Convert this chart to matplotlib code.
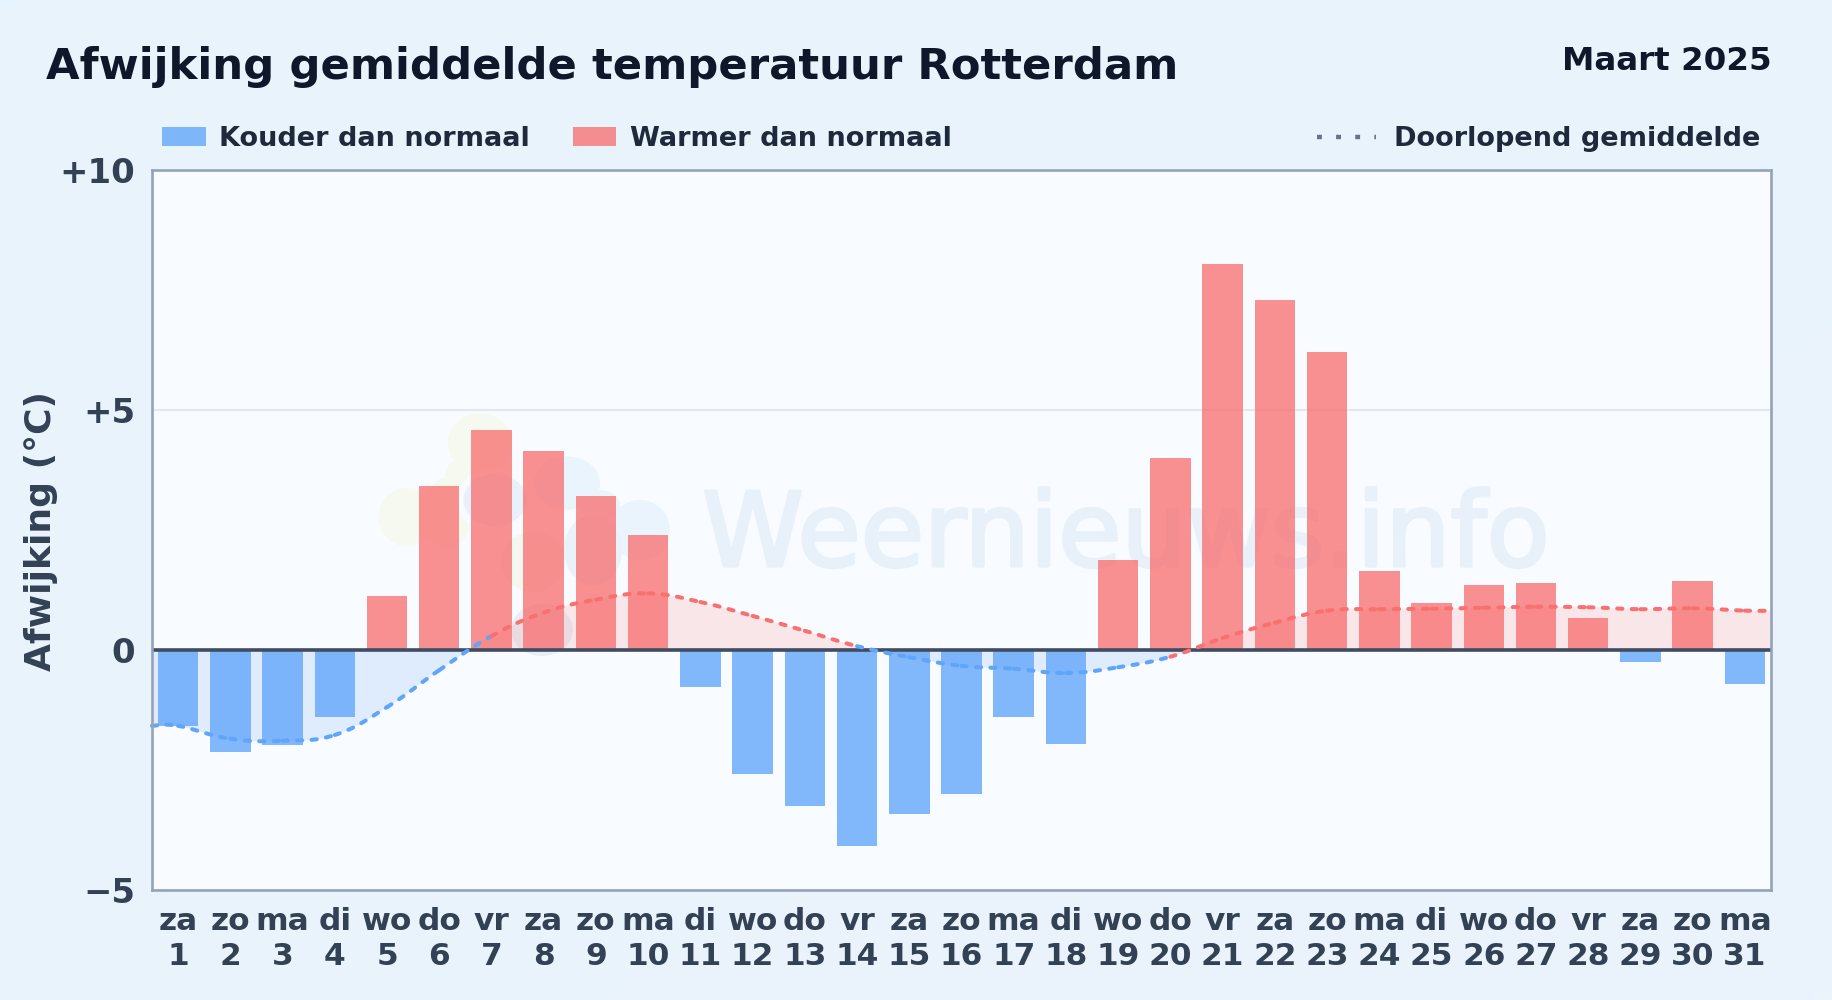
import numpy as np
import matplotlib
matplotlib.use("Agg")
import matplotlib.pyplot as plt
import matplotlib.patheffects as pe
from matplotlib.lines import Line2D
from matplotlib.patches import Ellipse, Rectangle

W, H = 1832, 1000

days = list(range(1, 32))
weekdays = ["za", "zo", "ma", "di", "wo", "do", "vr", "za", "zo", "ma", "di", "wo", "do", "vr", "za", "zo",
            "ma", "di", "wo", "do", "vr", "za", "zo", "ma", "di", "wo", "do", "vr", "za", "zo", "ma"]
deviation = [-1.58, -2.12, -1.97, -1.39, 1.12, 3.42, 4.58, 4.15, 3.21, 2.40, -0.78, -2.58, -3.26, -4.08, -3.42, -2.99,
             -1.39, -1.95, 1.88, 4.00, 8.04, 7.29, 6.21, 1.65, 0.98, 1.35, 1.40, 0.67, -0.26, 1.44, -0.70]
running_x = [0.5] + days + [31.5]
running_mean = [-1.58, -1.58, -1.85, -1.89, -1.77, -1.19, -0.42, 0.29, 0.78, 1.05, 1.18, 1.00, 0.71, 0.40, 0.08, -0.15, -0.33,
                -0.39, -0.48, -0.36, -0.14, 0.25, 0.57, 0.82, 0.85, 0.86, 0.88, 0.90, 0.89, 0.85, 0.87, 0.82, 0.82]
ytick_values = [-5, 0, 5, 10]
ytick_labels = ["\u22125", "0", "+5", "+10"]

BLUE = "#60a5fa"
RED = "#f87171"
DARK = "#0f172a"
SLATE = "#334155"
LEGEND_TEXT = "#1e293b"
EDGE = "#94a3b8"

plt.rcParams["font.family"] = "DejaVu Sans"
plt.rcParams["font.weight"] = "bold"


def px(x, y):
    return x / W, 1 - y / H


def smooth_curve(xs, ys, t=0.4, n=16):
    # bezier pieces like a canvas spline, one piece per pair of points
    xs, ys = np.array(xs, float), np.array(ys, float)
    pieces = []
    for i in range(len(xs) - 1):
        p0 = np.array([xs[i], ys[i]])
        p3 = np.array([xs[i + 1], ys[i + 1]])
        prev = np.array([xs[max(i - 1, 0)], ys[max(i - 1, 0)]])
        nxt = np.array([xs[min(i + 2, len(xs) - 1)], ys[min(i + 2, len(xs) - 1)]])
        p1 = p0 + (p3 - prev) * t / 2
        p2 = p3 - (nxt - p0) * t / 2
        s = np.linspace(0, 1, n)[:, None]
        pts = (1 - s) ** 3 * p0 + 3 * (1 - s) ** 2 * s * p1 + 3 * (1 - s) * s ** 2 * p2 + s ** 3 * p3
        pieces.append(pts)
    return pieces


fig = plt.figure(figsize=(W / 100, H / 100), dpi=100)

# soft page background
bg = fig.add_axes([0, 0, 1, 1], zorder=0)
gx, gy = np.meshgrid(np.linspace(0, 1, 200), np.linspace(0, 1, 110))
bg.imshow(gx * 0.5 + gy * 0.5, cmap=matplotlib.colors.LinearSegmentedColormap.from_list("p", ["#e8f4fd", "#ebf3fb"]),
          aspect="auto", extent=[0, 1, 0, 1])
bg.axis("off")

left, right, top, bottom = 152, 1771, 170, 890
ax = fig.add_axes([left / W, 1 - bottom / H, (right - left) / W, (bottom - top) / H], zorder=1)
ax.set_facecolor("#f8fbff")
ax.set_xlim(0.5, 31.5)
ax.set_ylim(-5, 10)

# watermark: cloud logo and site name
for cx, cy, w, h, col in [
    (480, 443, 64, 60, "#f5f9ef"), (407, 517, 57, 58, "#f5f9ef"), (447, 513, 50, 70, "#f5f9ef"),
    (462, 478, 34, 40, "#f5f9ef"), (533, 562, 64, 60, "#f3f7f0"),
    (495, 500, 76, 66, "#f8fbff"), (495, 500, 63, 52, "#e8f0f9"),
    (567, 483, 66, 53, "#e9f4fd"), (640, 530, 60, 60, "#e9f4fd"), (600, 505, 40, 30, "#e9f4fd"),
    (593, 550, 58, 70, "#e9f2f9"), (542, 630, 62, 52, "#e8eef6"),
]:
    ax.add_patch(Ellipse(px(cx, cy), w / W, h / H, transform=fig.transFigure, color=col, lw=0, zorder=0.5))
ax.text(*px(702, 566), "Weernieuws.info", transform=fig.transFigure, fontsize=74, fontweight="normal",
        color="#e8f1f9", ha="left", va="baseline", zorder=0.6,
        path_effects=[pe.withStroke(linewidth=2.4, foreground="#e8f1f9")])

ax.yaxis.grid(True, color="#e2e8f0", lw=1.5, zorder=0.7)
ax.set_axisbelow(True)

# fill between running mean and zero
pieces = smooth_curve(running_x, running_mean)
curve = np.vstack(pieces)
ax.fill_between(curve[:, 0], curve[:, 1], 0, where=curve[:, 1] >= 0, interpolate=True,
                color=RED, alpha=0.15, lw=0, zorder=1)
ax.fill_between(curve[:, 0], curve[:, 1], 0, where=curve[:, 1] <= 0, interpolate=True,
                color=BLUE, alpha=0.17, lw=0, zorder=1)

bar_colors = [RED if v >= 0 else BLUE for v in deviation]
ax.bar(days, deviation, width=0.775, color=bar_colors, alpha=0.78, lw=0, zorder=2)

ax.axhline(0, color="#3f4c62", lw=2.6, zorder=3)

# every piece restarts the dash pattern, colour follows the piece midpoint
for i, pts in enumerate(pieces):
    mid = (running_mean[i] + running_mean[i + 1]) / 2
    ax.plot(pts[:, 0], pts[:, 1], color=RED if mid >= 0 else BLUE, lw=2.9, linestyle=(0, (1.3, 2.3)),
            dash_capstyle="round", clip_on=False, zorder=4)

for s in ax.spines.values():
    s.set_color(EDGE)
    s.set_linewidth(1.9)
    s.set_zorder(5)

ax.set_xticks(days)
ax.set_xticklabels([f"{d}\n{n}" for d, n in zip(weekdays, days)], fontsize=22.5, color=SLATE, linespacing=1.26)
ax.set_yticks(ytick_values)
ax.set_yticklabels(ytick_labels, fontsize=24.4, color=SLATE)
ax.tick_params(axis="both", length=0, pad=12)
ax.tick_params(axis="y", pad=12)

fig.text(*px(46, 67), "Afwijking gemiddelde temperatuur Rotterdam", fontsize=31.2, color=DARK, va="center", ha="left")
fig.text(*px(1772, 61), "Maart 2025", fontsize=23.4, color=DARK, va="center", ha="right")
fig.text(*px(41, 531), "Afwijking (\u00b0C)", fontsize=26, color=SLATE, rotation=90, va="center", ha="center")

# legend placed by hand, the three entries are spread over the width
fig.add_artist(Rectangle(px(162, 146), 44 / W, 19 / H, transform=fig.transFigure, color=BLUE, alpha=0.78, lw=0))
fig.add_artist(Rectangle(px(573, 146), 43 / W, 19 / H, transform=fig.transFigure, color=RED, alpha=0.78, lw=0))
fig.add_artist(Line2D([1317 / W, 1376 / W], [1 - 137 / H] * 2, transform=fig.transFigure, color="#64748b",
                      lw=3.2, linestyle=(0, (1.1, 3.2))))
fig.text(*px(219, 139), "Kouder dan normaal", fontsize=19.5, color=LEGEND_TEXT, va="center", ha="left")
fig.text(*px(630, 139), "Warmer dan normaal", fontsize=19.5, color=LEGEND_TEXT, va="center", ha="left")
fig.text(*px(1760, 139), "Doorlopend gemiddelde", fontsize=19.5, color=LEGEND_TEXT, va="center", ha="right")

fig.savefig("out.png", dpi=100)
